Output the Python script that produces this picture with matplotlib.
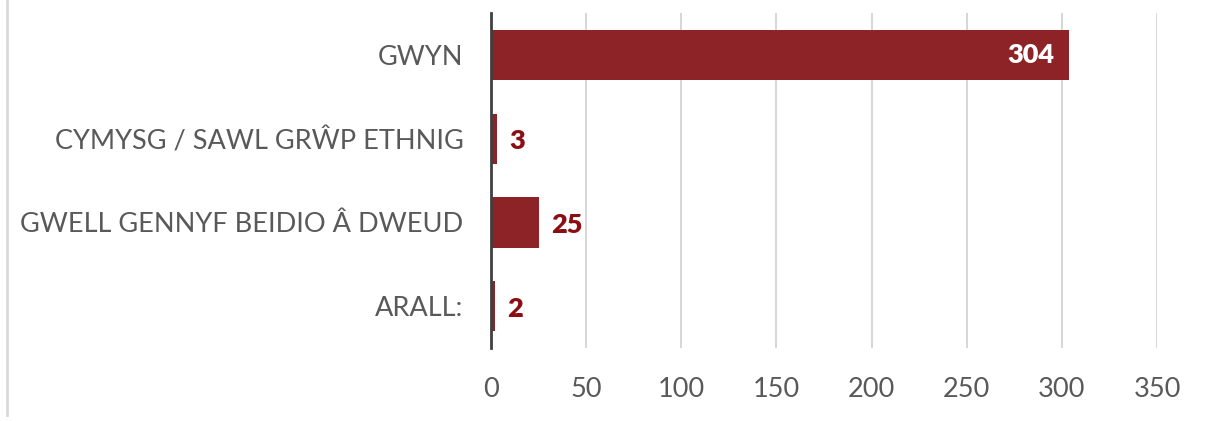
import matplotlib.pyplot as plt
from matplotlib.lines import Line2D

categories = ["GWYN", "CYMYSG / SAWL GRŴP ETHNIG", "GWELL GENNYF BEIDIO Â DWEUD", "ARALL:"]
counts = [304, 3, 25, 2]
xticks = [0, 50, 100, 150, 200, 250, 300, 350]

bar_col = "#8E2327"
txt_col = "#595959"
plt.rcParams['font.family'] = ['Lato', 'DejaVu Sans']

fig = plt.figure(figsize=(12.08, 4.21), dpi=100)
ax = fig.add_axes([0.4065, 0.173, 0.5513, 0.796])

y = list(range(len(categories)))
bars = ax.barh(y, counts, height=0.6, color=bar_col, zorder=3)
ax.set_ylim(len(categories) - 0.5, -0.5)
ax.set_xlim(0, 350)
ax.set_xticks(xticks)
ax.set_yticks(y)
ax.set_yticklabels(categories)
ax.tick_params(axis='both', length=0, labelsize=19.5, colors=txt_col)
ax.tick_params(axis='x', pad=21)
ax.tick_params(axis='y', pad=20)
ax.grid(axis='x', color="#D0D0D0", linewidth=1.2, zorder=0)
for s in ["top", "right", "bottom"]:
    ax.spines[s].set_visible(False)
ax.spines["left"].set_color("#404040")
ax.spines["left"].set_linewidth(2)
ax.spines["left"].set_zorder(4)

for b, v in zip(bars, counts):
    yc = b.get_y() + b.get_height() / 2
    if v > 100:
        ax.text(v - 8, yc, str(v), ha='right', va='center', color='white',
                fontsize=19.5, fontweight='heavy', zorder=5)
    else:
        ax.text(v + 6.5, yc + 0.03, str(v), ha='left', va='center', color="#8B0E12",
                fontsize=19.5, fontweight='heavy', zorder=5)

fig.add_artist(Line2D([7 / 1208, 7 / 1208], [0.015, 1], transform=fig.transFigure,
                      color="#D9D9D9", linewidth=2))

fig.savefig("out.png", dpi=100, facecolor="white")
